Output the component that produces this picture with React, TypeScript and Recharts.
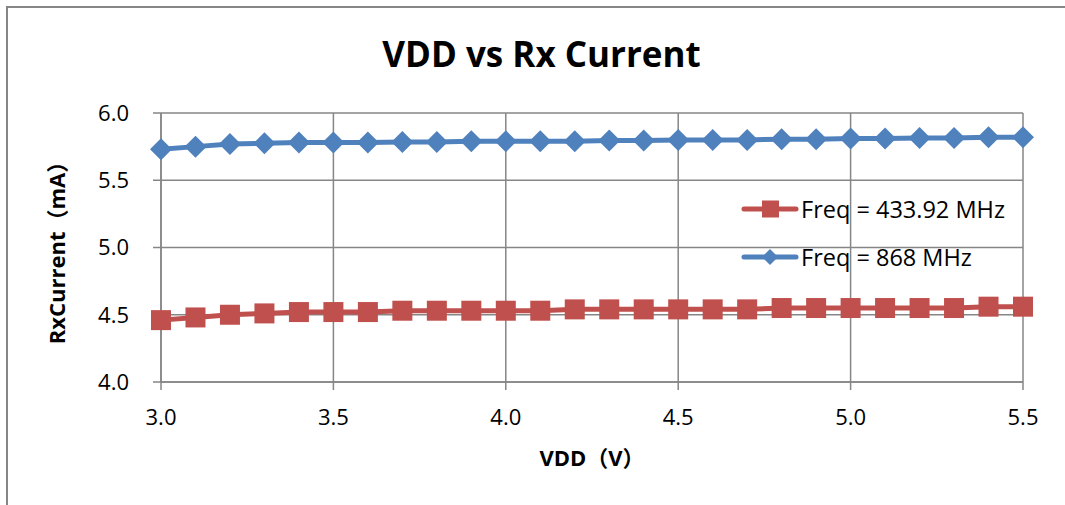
import React from 'react';
import { LineChart, Line, XAxis, YAxis, CartesianGrid, Legend, Label } from 'recharts';

const vddValues = [3.0, 3.1, 3.2, 3.3, 3.4, 3.5, 3.6, 3.7, 3.8, 3.9, 4.0, 4.1, 4.2, 4.3, 4.4, 4.5, 4.6, 4.7, 4.8, 4.9, 5.0, 5.1, 5.2, 5.3, 5.4, 5.5];
const freq433 = [4.46, 4.48, 4.50, 4.51, 4.52, 4.52, 4.52, 4.53, 4.53, 4.53, 4.53, 4.53, 4.54, 4.54, 4.54, 4.54, 4.54, 4.54, 4.55, 4.55, 4.55, 4.55, 4.55, 4.55, 4.56, 4.56];
const freq868 = [5.73, 5.75, 5.77, 5.775, 5.78, 5.78, 5.78, 5.785, 5.785, 5.79, 5.79, 5.79, 5.79, 5.795, 5.795, 5.80, 5.80, 5.80, 5.805, 5.805, 5.81, 5.81, 5.815, 5.815, 5.82, 5.82];
const xTicks = [3.0, 3.5, 4.0, 4.5, 5.0, 5.5];
const yTicks = [4.0, 4.5, 5.0, 5.5, 6.0];
const seriesNames = ['Freq = 433.92 MHz', 'Freq = 868 MHz'];
const titleText = 'VDD vs Rx Current';
const xLabelText = 'VDD（V）';
const yLabelText = 'RxCurrent（mA）';

const data = vddValues.map((v, i) => ({ vdd: v, f433: freq433[i], f868: freq868[i] }));

const RED = '#C0504D';
const BLUE = '#4F81BD';
const GRID = '#868686';
const FONT = '"Open Sans", "Noto Sans CJK SC", sans-serif';

const SquareDot = (props: any) => {
  const { cx, cy, index } = props;
  if (cx == null || cy == null) return <g key={`s${index}`} />;
  return <rect key={`s${index}`} x={cx - 10} y={cy - 10} width={20} height={20} fill={RED} />;
};

const DiamondDot = (props: any) => {
  const { cx, cy, index } = props;
  if (cx == null || cy == null) return <g key={`d${index}`} />;
  const r = 11;
  return <polygon key={`d${index}`} points={`${cx},${cy - r} ${cx + r},${cy} ${cx},${cy + r} ${cx - r},${cy}`} fill={BLUE} />;
};

const LegendContent = (props: any) => {
  const payload = props.payload || [];
  return (
    <div style={{ fontFamily: FONT, fontSize: 23.5, color: '#000' }}>
      {payload.map((p: any, i: number) => {
        const isRed = p.dataKey === 'f433';
        return (
          <div key={i} style={{ display: 'flex', alignItems: 'center', height: 48 }}>
            <svg width={58} height={24} style={{ display: 'block' }}>
              <line x1={3} y1={12} x2={55} y2={12} stroke={isRed ? RED : BLUE} strokeWidth={5} strokeLinecap="round" />
              {isRed ? (
                <rect x={21} y={3.5} width={17} height={17} fill={RED} />
              ) : (
                <polygon points="29,4 37,12 29,20 21,12" fill={BLUE} />
              )}
            </svg>
            <span style={{ marginLeft: 2, whiteSpace: 'nowrap', lineHeight: '24px' }}>{p.value}</span>
          </div>
        );
      })}
    </div>
  );
};

export default function App() {
  return (
    <div style={{ position: 'fixed', left: 0, top: 0, width: 1065, height: 505, overflow: 'hidden', background: '#fff' }}>
      <div style={{ position: 'absolute', left: 6, top: 6, width: 1200, height: 700, borderLeft: `2px solid ${GRID}`, borderTop: `2px solid ${GRID}`, boxSizing: 'border-box' }} />
      <div style={{ position: 'absolute', left: 0, top: 30, width: 1083, textAlign: 'center', fontFamily: FONT, fontWeight: 700, fontSize: 35, lineHeight: '48px', color: '#000' }}>
        {titleText}
      </div>
      <div style={{ position: 'absolute', left: 0, top: 0 }}>
        <LineChart width={1065} height={505} data={data} margin={{ top: 113, right: 42, left: 0, bottom: 0 }}>
          <CartesianGrid stroke={GRID} strokeWidth={1.5} />
          <XAxis
            type="number"
            dataKey="vdd"
            domain={[3, 5.5]}
            ticks={xTicks}
            tickFormatter={(v: number) => v.toFixed(1)}
            height={123}
            stroke={GRID}
            strokeWidth={1.5}
            tickSize={8}
            tickMargin={19}
            tick={{ fill: '#000', fontSize: 22, fontFamily: FONT }}
            interval={0}
          >
            <Label
              content={(lp: any) => {
                const vb = lp.viewBox || {};
                return (
                  <text x={vb.x + vb.width / 2} y={466} textAnchor="middle" fontFamily={FONT} fontWeight={700} fontSize={22} fill="#000">
                    {xLabelText}
                  </text>
                );
              }}
            />
          </XAxis>
          <YAxis
            type="number"
            domain={[4, 6]}
            ticks={yTicks}
            tickFormatter={(v: number) => v.toFixed(1)}
            width={161}
            stroke={GRID}
            strokeWidth={1.5}
            tickSize={8}
            tickMargin={24}
            tick={{ fill: '#000', fontSize: 22, fontFamily: FONT }}
            interval={0}
          >
            <Label
              content={(lp: any) => {
                const vb = lp.viewBox || {};
                const cx = 56;
                const cy = vb.y + vb.height / 2;
                return (
                  <text x={cx} y={cy} transform={`rotate(-90 ${cx} ${cy})`} textAnchor="middle" dominantBaseline="central" fontFamily={FONT} fontWeight={700} fontSize={22} fill="#000">
                    {yLabelText}
                  </text>
                );
              }}
            />
          </YAxis>
          <Legend
            layout="vertical"
            verticalAlign="middle"
            align="center"
            content={<LegendContent />}
            wrapperStyle={{ position: 'absolute', left: 741, top: 185, width: 320 }}
          />
          <Line
            name={seriesNames[0]}
            dataKey="f433"
            type="linear"
            stroke={RED}
            strokeWidth={5}
            dot={<SquareDot />}
            activeDot={false}
            isAnimationActive={false}
          />
          <Line
            name={seriesNames[1]}
            dataKey="f868"
            type="linear"
            stroke={BLUE}
            strokeWidth={5}
            dot={<DiamondDot />}
            activeDot={false}
            isAnimationActive={false}
          />
        </LineChart>
      </div>
    </div>
  );
}
